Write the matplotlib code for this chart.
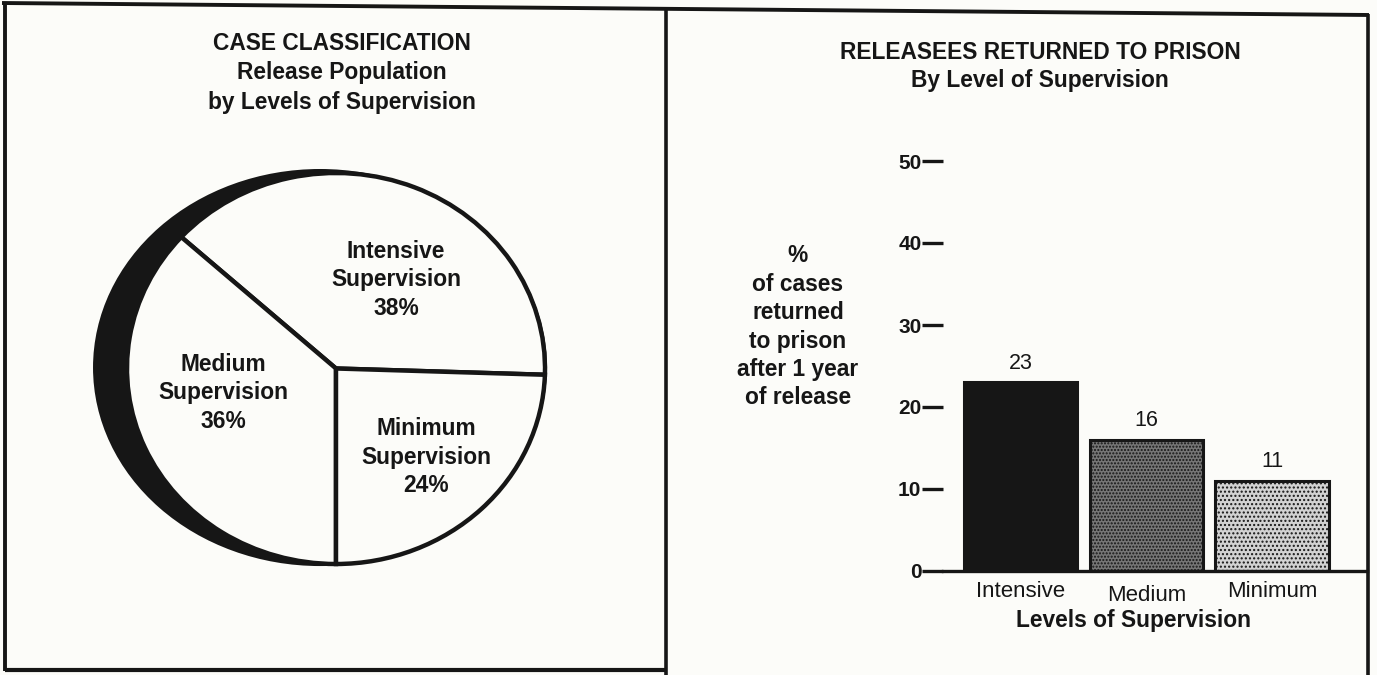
import numpy as np
import matplotlib
matplotlib.use("Agg")
import matplotlib.pyplot as plt
from matplotlib.patches import Ellipse
from matplotlib.lines import Line2D
from matplotlib.transforms import ScaledTranslation

# ---- data -------------------------------------------------------------
levels = ["Intensive", "Medium", "Minimum"]
population_pct = [38, 36, 24]          # share of release population
returned_pct = [23, 16, 11]            # % returned to prison after 1 year
y_ticks = [0, 10, 20, 30, 40, 50]

# ---- style ------------------------------------------------------------
W, H = 1377, 675
paper = "#fcfcf9"
ink = "#161616"
bar_faces = ["#161616", "#767676", "#d2d2d2"]
bar_hatches = [None, ".....", "...."]
FONT = "Liberation Sans"
LS = 1.3
BOLD_SIZE = 16.4

plt.rcParams["font.family"] = [FONT, "DejaVu Sans"]
plt.rcParams["hatch.linewidth"] = 1.0

fig = plt.figure(figsize=(W / 100, H / 100), dpi=100, facecolor=paper)


def fx(px):
    return px / W


def fy(py):
    return 1 - py / H


# ---- page frame -------------------------------------------------------
frame = fig.add_axes([0, 0, 1, 1], zorder=0)
frame.set_xlim(0, W)
frame.set_ylim(H, 0)
frame.axis("off")
for xs, ys, lw in [
    ((2, 1369), (3, 15), 2.8),     # top rule
    ((5, 5), (3, 671), 2.8),       # left rule
    ((5, 666), (670, 670), 3.0),   # bottom rule under left panel
    ((666, 666), (9, 675), 2.6),   # divider
    ((1368, 1368), (14, 675), 2.6),  # right rule
]:
    frame.add_line(Line2D(xs, ys, color=ink, lw=lw, solid_capstyle="butt"))

# ---- left panel: pie --------------------------------------------------
fig.text(fx(342), fy(73), "CASE CLASSIFICATION\nRelease Population\nby Levels of Supervision",
         ha="center", va="center", fontsize=BOLD_SIZE, fontweight="bold", color=ink,
         linespacing=1.36)

cx, cy, rx, ry = 336, 368.5, 209, 195.5
lim = 1.3
ax_pie = fig.add_axes([fx(cx - lim * rx), fy(cy + lim * ry), 2 * lim * rx / W, 2 * lim * ry / H],
                      zorder=2)
ax_pie.patch.set_visible(False)

# dark rim giving the disc its depth
ax_pie.add_patch(Ellipse((-0.0766, 0.005), 2.172, 2.031, facecolor=ink,
                         edgecolor="none", zorder=1, clip_on=False))

shares = np.array(population_pct) / np.sum(population_pct)
start = -90 + shares[2] * 360
wedges, _ = ax_pie.pie(population_pct, startangle=start, counterclock=True,
                       radius=1.0, center=(0, 0),
                       wedgeprops=dict(facecolor=paper, edgecolor=ink, linewidth=3.2))
for w in wedges:
    w.set_zorder(2)
    w.set_clip_on(False)
ax_pie.set_aspect("auto")
ax_pie.set_xlim(-lim, lim)
ax_pie.set_ylim(-lim, lim)
ax_pie.axis("off")

label_pos = [(0.287, 0.453), (-0.541, -0.125), (0.431, -0.453)]
for name, pct, (tx, ty) in zip(levels, population_pct, label_pos):
    ax_pie.text(tx, ty, f"{name}\nSupervision\n{pct}%", ha="center", va="center",
                fontsize=BOLD_SIZE, fontweight="bold", color=ink, linespacing=LS, zorder=3)

# ---- right panel: bars ------------------------------------------------
fig.text(fx(1040), fy(66.5), "RELEASEES RETURNED TO PRISON\nBy Level of Supervision",
         ha="center", va="center", fontsize=BOLD_SIZE, fontweight="bold", color=ink,
         linespacing=LS)

ax = fig.add_axes([fx(943), fy(571), (1367 - 943) / W, 410 / H], zorder=2)
ax.patch.set_visible(False)
x = np.arange(len(levels))
bars = ax.bar(x, returned_pct, width=0.9, color=bar_faces, edgecolor=ink, linewidth=2.2)
for b, h in zip(bars, bar_hatches):
    if h:
        b.set_hatch(h)
ax.set_xlim(-0.616, 2.755)
ax.set_ylim(0, 50)
ax.set_yticks(y_ticks)
ax.set_yticklabels([str(t) for t in y_ticks], fontsize=15, fontweight="bold", color=ink)
ax.tick_params(axis="y", direction="out", length=15, width=2.4, pad=0.5, colors=ink)
ax.set_xticks(x)
ax.set_xticklabels(levels, fontsize=16, color=ink)
ax.tick_params(axis="x", length=0, pad=7)
# the middle category label sits a touch lower
mid = ax.get_xticklabels()[1]
mid.set_transform(mid.get_transform() + ScaledTranslation(0, -4 / 100, fig.dpi_scale_trans))
for s in ("left", "top", "right"):
    ax.spines[s].set_visible(False)
ax.spines["bottom"].set_linewidth(2.4)
ax.spines["bottom"].set_color(ink)

for xi, v in zip(x, returned_pct):
    ax.annotate(f"{v}", (xi, v), xytext=(0, 6), textcoords="offset points",
                ha="center", va="bottom", fontsize=15.5, color=ink)

ax.set_xlabel("Levels of Supervision", fontsize=BOLD_SIZE, fontweight="bold", color=ink)
ax.xaxis.label.set_va("center")
ax.xaxis.set_label_coords((1133 - 943) / 424, (571 - 620) / 410)

fig.text(fx(798), fy(327), "%\nof cases\nreturned\nto prison\nafter 1 year\nof release",
         ha="center", va="center", fontsize=BOLD_SIZE, fontweight="bold", color=ink,
         linespacing=LS)

fig.savefig("out.png", dpi=100, facecolor=paper)
